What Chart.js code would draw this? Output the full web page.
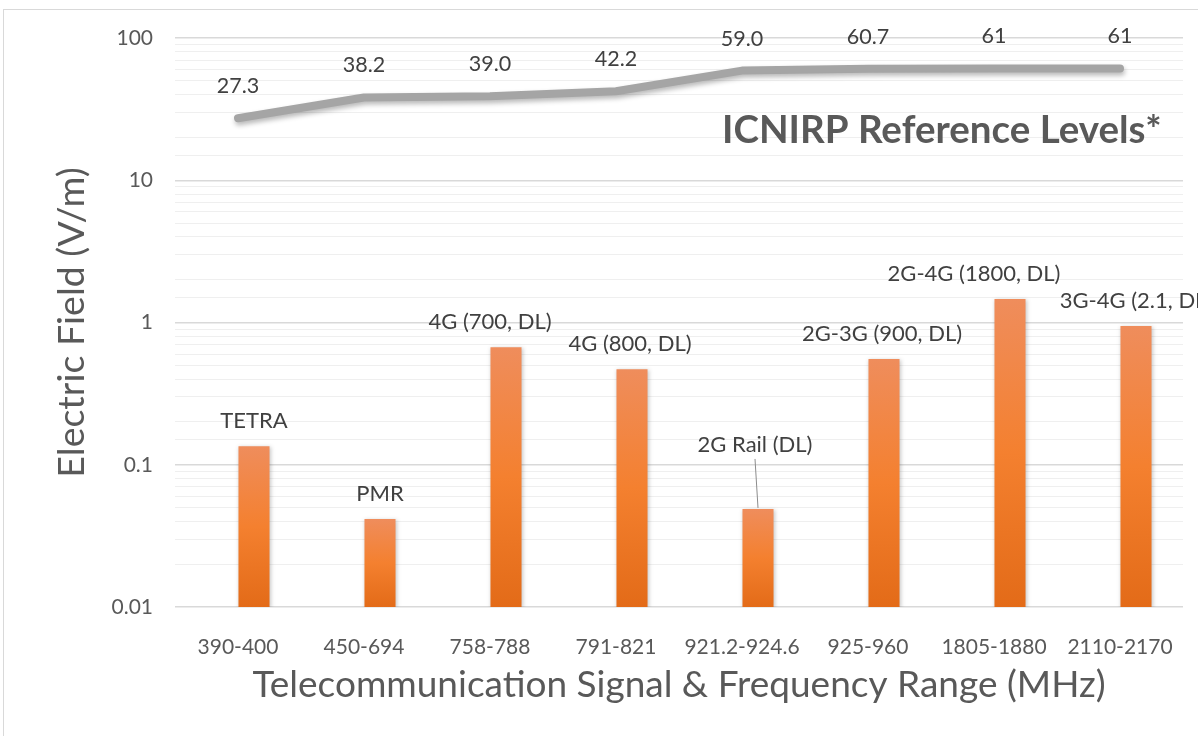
<!DOCTYPE html>
<html>
<head>
<meta charset="utf-8">
<script src="https://cdn.jsdelivr.net/npm/chart.js@4.4.1/dist/chart.umd.min.js"></script>
<style>
  html, body { margin: 0; padding: 0; background: #ffffff; }
  #wrap { position: relative; width: 1198px; height: 736px; overflow: hidden; }
  #frame { position: absolute; left: 3px; top: 9px; width: 1300px; height: 800px; border: 1px solid #d9d9d9; box-sizing: border-box; }
  #c { position: absolute; left: 0; top: 0; }
</style>
</head>
<body>
<div id="wrap">
  <div id="frame"></div>
  <canvas id="c" width="1198" height="736"></canvas>
</div>
<script>
// ---- data ----
const categories = ['390-400', '450-694', '758-788', '791-821', '921.2-924.6', '925-960', '1805-1880', '2110-2170'];
const signalNames = ['TETRA', 'PMR', '4G (700, DL)', '4G (800, DL)', '2G Rail (DL)', '2G-3G (900, DL)', '2G-4G (1800, DL)', '3G-4G (2.1, DL)'];
const measuredField = [0.135, 0.0415, 0.671, 0.47, 0.0489, 0.553, 1.46, 0.944];
const icnirpLevels = [27.3, 38.2, 39.0, 42.2, 59.0, 60.7, 61, 61];
const icnirpLabels = ['27.3', '38.2', '39.0', '42.2', '59.0', '60.7', '61', '61'];
const yTickValues = [0.01, 0.1, 1, 10, 100];
const yTickLabels = ['0.01', '0.1', '1', '10', '100'];
const emptySlot = [null, null, null, null, null, null, null, null];
const lineTitle = 'ICNIRP Reference Levels*';
const xTitle = 'Telecommunication Signal & Frequency Range (MHz)';
const yTitle = 'Electric Field (V/m)';

const FONT = 'Lato, "Open Sans", "DejaVu Sans", sans-serif';

function isMajor(v) {
  return yTickValues.some(t => Math.abs(v - t) / t < 1e-6);
}

function barGradient(ctx) {
  const chart = ctx.chart;
  const area = chart.chartArea;
  if (!area || ctx.type !== 'data') return '#f47f2f';
  const y = chart.scales.y;
  const top = y.getPixelForValue(ctx.raw);
  const bottom = area.bottom;
  const g = chart.ctx.createLinearGradient(0, top, 0, bottom);
  g.addColorStop(0, '#ef8d5c');
  g.addColorStop(0.5, '#f4802f');
  g.addColorStop(1, '#e36b18');
  return g;
}

const shadowPlugin = {
  id: 'shadows',
  beforeDatasetDraw(chart, args) {
    const c = chart.ctx;
    c.save();
    if (args.index === 2) {
      c.shadowColor = 'rgba(0,0,0,0.28)';
      c.shadowBlur = 5;
      c.shadowOffsetX = 1;
      c.shadowOffsetY = 3;
    } else if (args.index === 1) {
      c.shadowColor = 'rgba(0,0,0,0.22)';
      c.shadowBlur = 4;
      c.shadowOffsetX = 1;
      c.shadowOffsetY = 1;
    }
  },
  afterDatasetDraw(chart) {
    chart.ctx.restore();
  }
};

const labelPlugin = {
  id: 'labels',
  afterDatasetsDraw(chart, args, opts) {
    const c = chart.ctx;
    c.save();
    c.textAlign = 'center';
    c.textBaseline = 'middle';
    c.fillStyle = '#404040';
    c.font = '21.5px ' + FONT;
    // line labels
    const lineMeta = chart.getDatasetMeta(2);
    lineMeta.data.forEach((pt, i) => {
      c.fillText(icnirpLabels[i], pt.x, pt.y - 32);
    });
    // bar labels
    c.font = '22px ' + FONT;
    const barMeta = chart.getDatasetMeta(1);
    barMeta.data.forEach((bar, i) => {
      const dx = (opts.dx && opts.dx[i]) || 0;
      const dy = (opts.dy && opts.dy[i]) || 0;
      const lx = bar.x + dx;
      const ly = bar.y - 25 + dy;
      c.fillText(signalNames[i], lx, ly);
      if (dy < -5) {
        c.strokeStyle = '#8c8c8c';
        c.lineWidth = 1;
        c.beginPath();
        c.moveTo(lx, ly + 14);
        c.lineTo(bar.x, bar.y - 1);
        c.stroke();
      }
    });
    // series title
    c.font = 'bold 38.5px ' + FONT;
    c.fillStyle = '#595959';
    c.textAlign = 'left';
    c.fillText(lineTitle, opts.titleX, opts.titleY);
    c.restore();
  }
};

new Chart(document.getElementById('c'), {
  data: {
    labels: categories,
    datasets: [
      { type: 'bar', label: '', data: emptySlot, backgroundColor: 'rgba(0,0,0,0)', order: 1 },
      { type: 'bar', label: 'Measured', data: measuredField, backgroundColor: barGradient, borderWidth: 0, order: 2 },
      { type: 'line', label: 'ICNIRP', data: icnirpLevels, borderColor: '#a5a5a5', borderWidth: 8,
        pointRadius: 0, tension: 0, borderCapStyle: 'round', borderJoinStyle: 'round', fill: false, order: 0 }
    ]
  },
  options: {
    responsive: false,
    animation: false,
    events: [],
    layout: { padding: { top: 38, right: 15, left: 0, bottom: 0 } },
    datasets: { bar: { categoryPercentage: 0.508, barPercentage: 0.97 } },
    plugins: {
      legend: { display: false },
      tooltip: { enabled: false },
      labels: { dx: [0, 0, -16, -2, -3, -2, -36, 0], dy: [0, 0, 0, 0, -39, 0, 0, 0], titleX: 722, titleY: 131 }
    },
    scales: {
      x: {
        grid: { display: false },
        border: { display: false },
        ticks: { color: '#595959', font: { family: FONT, size: 21 }, padding: 20, maxRotation: 0, autoSkip: false },
        title: { display: true, text: xTitle, color: '#595959', font: { family: FONT, size: 37, lineHeight: 1.2 }, padding: { top: 0, bottom: 29 } },
        afterFit(s) { s.height = 129; }
      },
      y: {
        type: 'logarithmic',
        min: 0.01,
        max: 100,
        border: { display: false },
        grid: {
          drawTicks: false,
          color: ctx => isMajor(ctx.tick.value) ? '#d9d9d9' : '#efefef',
          lineWidth: ctx => isMajor(ctx.tick.value) ? 1.5 : 1
        },
        ticks: {
          autoSkip: false,
          color: '#595959',
          font: { family: FONT, size: 21 },
          padding: 22,
          callback: (v) => {
            const idx = yTickValues.findIndex(t => Math.abs(v - t) / t < 1e-6);
            return idx >= 0 ? yTickLabels[idx] : '';
          }
        },
        title: { display: true, text: yTitle, color: '#595959', font: { family: FONT, size: 37.5, lineHeight: 1.2 }, padding: { top: 49, bottom: 0 } },
        afterFit(s) { s.width = 175; }
      }
    }
  },
  plugins: [shadowPlugin, labelPlugin]
});
</script>
</body>
</html>
